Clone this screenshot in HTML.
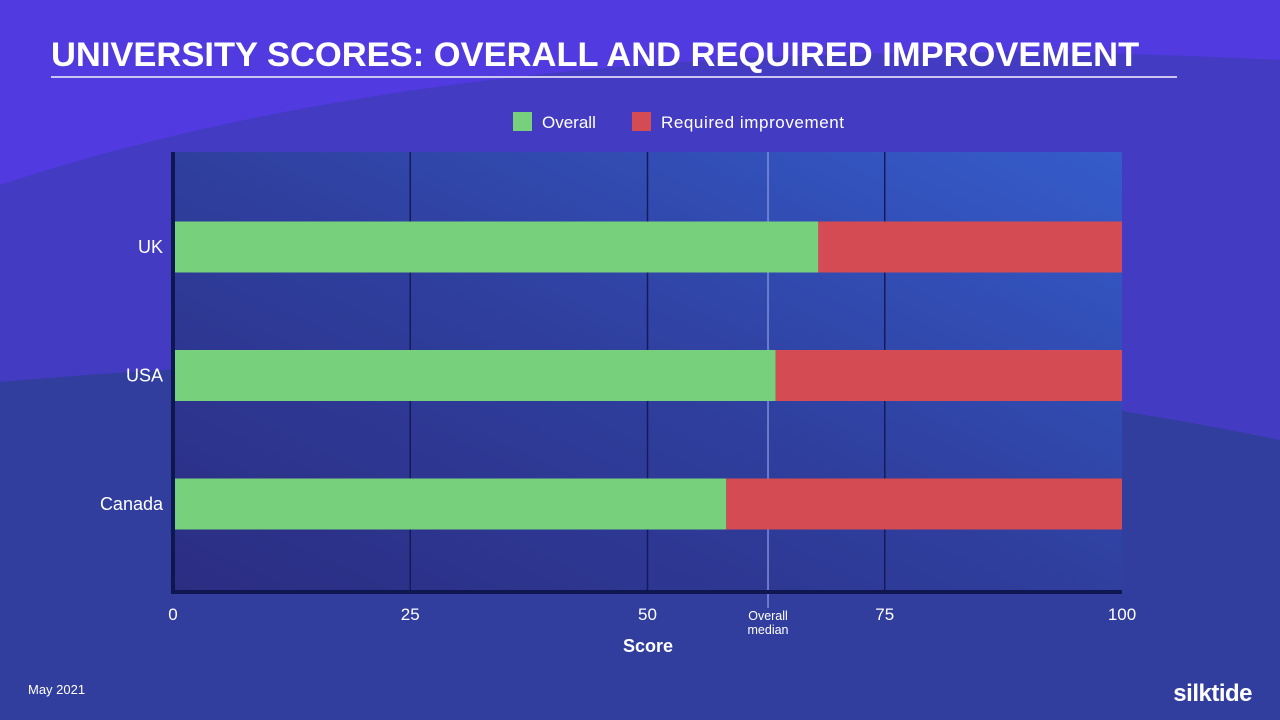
<!DOCTYPE html>
<html><head><meta charset="utf-8"><style>
html,body{margin:0;padding:0;width:1280px;height:720px;overflow:hidden;background:#503ae0;font-family:"Liberation Sans",sans-serif}
svg text{font-family:"Liberation Sans",sans-serif}
</style></head><body>
<svg id="chart" width="1280" height="720" viewBox="0 0 1280 720" xmlns="http://www.w3.org/2000/svg">
<defs>
<linearGradient id="plotg" x1="0" y1="1" x2="1" y2="0">
<stop offset="0" stop-color="#2b2d82"/><stop offset="0.5" stop-color="#2f3f9e"/><stop offset="1" stop-color="#355ccb"/>
</linearGradient>
</defs>
<rect width="1280" height="720" fill="#503ae0"/>
<path d="M0,185 Q500,20 1280,60 L1280,720 L0,720 Z" fill="#443bc3"/>
<path d="M0,382 Q700,320 1280,440 L1280,720 L0,720 Z" fill="#323e9e"/>
<text x="51" y="66" fill="#fff" font-size="34.5" font-weight="bold">UNIVERSITY SCORES: OVERALL AND REQUIRED IMPROVEMENT</text>
<rect x="51" y="76" width="1126" height="2" fill="#c9c4f0"/>
<g>
<rect x="513" y="112" width="19" height="19" fill="#77d07c"/>
<text x="542" y="128" fill="#fff" font-size="17">Overall</text>
<rect x="632" y="112" width="19" height="19" fill="#d44b53"/>
<text x="661" y="128" fill="#fff" font-size="17" textLength="183">Required improvement</text>
</g>
<rect x="173" y="152" width="949" height="440" fill="url(#plotg)"/>
<g id="grid"></g>
<g id="bars"></g>
<g id="labels"></g>
<text x="648" y="652" fill="#fff" font-size="18" font-weight="bold" text-anchor="middle">Score</text>
<text x="28" y="694" fill="#fff" font-size="13">May 2021</text>
<text x="1252" y="701" fill="#fff" font-size="24" font-weight="bold" text-anchor="end" letter-spacing="-0.5">silktide</text>
</svg>
<script>
const categories = ["UK", "USA", "Canada"];
const overall = [68, 63.5, 58.3];
const required = [32, 36.5, 41.7];
const ticks = [0, 25, 50, 75, 100];
const median = 62.7;

const NS = "http://www.w3.org/2000/svg";
const X0 = 173, X1 = 1122, Y0 = 152, Y1 = 592;
const x = v => X0 + (v / 100) * (X1 - X0);
const yc = i => 247 + i * 128.5;
const barH = 51;
function mk(tag, attrs, parent) {
  const e = document.createElementNS(NS, tag);
  for (const k in attrs) e.setAttribute(k, attrs[k]);
  parent.appendChild(e);
  return e;
}
const grid = document.getElementById('grid');
const bars = document.getElementById('bars');
const labels = document.getElementById('labels');
ticks.forEach(t => {
  if (t > 0 && t < 100) {
    const l = mk('line', {x1: x(t), x2: x(t), y1: Y0, y2: Y1, stroke: '#16195a', 'stroke-width': 1.5}, grid);
    
    
  }
  const tx = mk('text', {x: x(t), y: 620, fill: '#fff', 'font-size': 17, 'text-anchor': 'middle'}, labels);
  tx.textContent = t;
  
  
});
const ml = mk('line', {x1: x(median), x2: x(median), y1: Y0, y2: Y1 + 16, stroke: '#7d8fd8', 'stroke-width': 1.5}, grid);


const mt = mk('text', {x: x(median), y: 620, fill: '#fff', 'font-size': 12.5, 'text-anchor': 'middle'}, labels);
mt.textContent = 'Overall';


const mt2 = mk('text', {x: x(median), y: 634, fill: '#fff', 'font-size': 12.5, 'text-anchor': 'middle'}, labels);
mt2.textContent = 'median';


categories.forEach((c, i) => {
  const y = yc(i) - barH / 2;
  const g = mk('rect', {x: X0 + 2, y: y, width: x(overall[i]) - X0 - 2, height: barH, fill: '#77d07c'}, bars);
  
  
  const r = mk('rect', {x: x(overall[i]), y: y, width: x(overall[i] + required[i]) - x(overall[i]), height: barH, fill: '#d44b53'}, bars);
  
  
  const t = mk('text', {x: 163, y: yc(i) + 6, fill: '#fff', 'font-size': 18, 'text-anchor': 'end'}, labels);
  t.textContent = c;
  
  
});
const ya = mk('rect', {x: X0 - 2, y: Y0, width: 4, height: Y1 - Y0 + 2, fill: '#0f1750'}, grid);


const xa = mk('rect', {x: X0 - 2, y: Y1 - 2, width: X1 - X0 + 2, height: 4, fill: '#0f1750'}, grid);


</script>
</body></html>
